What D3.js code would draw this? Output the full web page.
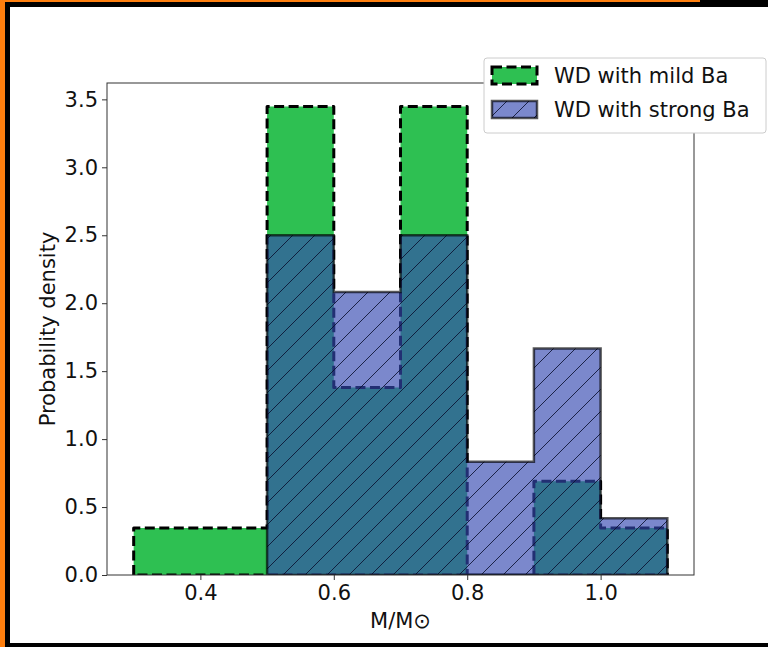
<!DOCTYPE html>
<meta charset='utf-8'>
<style>
body { margin: 0; background: #fff; }
svg { display: block; }
text {
    font-family: 'DejaVu Sans', sans-serif;
    fill: #111;
}
.axis path, .axis line {
    stroke: #333;
}
</style>
<svg width='768' height='647'></svg>
<script src='https://cdnjs.cloudflare.com/ajax/libs/d3/7.8.5/d3.min.js'></script>
<script>

// histogram bins (bin edges, M/Msun) and densities
var mildEdges = [0.3, 0.5, 0.6, 0.7, 0.8, 0.9, 1.0, 1.1],
    mildValues = [0.345, 3.448, 1.379, 3.448, 0, 0.690, 0.345],
    strongEdges = [0.5, 0.6, 0.7, 0.8, 0.9, 1.0, 1.1],
    strongValues = [2.5, 2.083, 2.5, 0.833, 1.667, 0.417];

var xTicks = [0.4, 0.6, 0.8, 1.0],
    yTicks = [0, 0.5, 1.0, 1.5, 2.0, 2.5, 3.0, 3.5];

var legendLabels = ['WD with mild Ba', 'WD with strong Ba'];

var svg = d3.select('svg'),
    W = +svg.attr('width'),
    H = +svg.attr('height');

// window frame (orange / black edges)
svg.append('rect').attr('width', W).attr('height', H).attr('fill', '#000');
svg.append('rect').attr('x', 0).attr('y', 0).attr('width', 5).attr('height', H).attr('fill', '#ff7f0e');
svg.append('rect').attr('x', 0).attr('y', 0).attr('width', 700).attr('height', 2).attr('fill', '#ff7f0e');
svg.append('rect').attr('x', 10).attr('y', 7).attr('width', W - 10).attr('height', 636).attr('fill', '#fff');

// plot area in px
var pLeft = 107, pRight = 694, pTop = 83, pBottom = 575;

var x = d3.scaleLinear().domain([0.26, 1.14]).range([pLeft, pRight]),
    y = d3.scaleLinear().domain([0, 3.448 * 1.05]).range([pBottom, pTop]);

// hatch pattern
var defs = svg.append('defs');
var hatch = defs.append('pattern')
    .attr('id', 'hatch')
    .attr('patternUnits', 'userSpaceOnUse')
    .attr('width', 22).attr('height', 22);
hatch.append('path')
    .attr('d', 'M-2,2 L2,-2 M0,22 L22,0 M20,24 L24,20')
    .attr('stroke', '#0b1030')
    .attr('stroke-width', 1)
    .attr('stroke-opacity', 0.85);

defs.append('clipPath').attr('id', 'plotclip')
  .append('rect').attr('x', pLeft).attr('y', pTop)
  .attr('width', pRight - pLeft).attr('height', pBottom - pTop);

function stepPoints(edges, values) {
    var pts = [[edges[0], 0]];
    values.forEach(function(v, i) {
        pts.push([edges[i], v]);
        pts.push([edges[i + 1], v]);
    });
    pts.push([edges[edges.length - 1], 0]);
    return pts;
}

var line = d3.line().x(function(d) { return x(d[0]); }).y(function(d) { return y(d[1]); });

var plot = svg.append('g').attr('clip-path', 'url(#plotclip)');

// mild Ba (stepfilled, dashed outline)
plot.append('path')
    .attr('d', line(stepPoints(mildEdges, mildValues)) + 'Z')
    .attr('fill', '#2ec052')
    .attr('stroke', '#000')
    .attr('stroke-width', 3)
    .attr('stroke-dasharray', '10,4.5')
    .attr('stroke-linejoin', 'round');

// strong Ba (stepfilled, semi transparent, hatched)
var strongD = line(stepPoints(strongEdges, strongValues)) + 'Z';
plot.append('path')
    .attr('d', strongD)
    .attr('fill', '#3448b1')
    .attr('fill-opacity', 0.65);
plot.append('path')
    .attr('d', strongD)
    .attr('fill', 'url(#hatch)');
plot.append('path')
    .attr('d', strongD)
    .attr('fill', 'none')
    .attr('stroke', '#000')
    .attr('stroke-opacity', 0.65)
    .attr('stroke-width', 2.5);

// axes
svg.append('g')
    .attr('class', 'axis')
    .attr('transform', 'translate(0,' + pBottom + ')')
    .call(d3.axisBottom(x).tickValues(xTicks).tickFormat(d3.format('.1f')).tickSize(5).tickPadding(5).tickSizeOuter(0));
svg.append('g')
    .attr('class', 'axis')
    .attr('transform', 'translate(' + pLeft + ',0)')
    .call(d3.axisLeft(y).tickValues(yTicks).tickFormat(d3.format('.1f')).tickSize(5).tickPadding(4).tickSizeOuter(0));
svg.selectAll('.axis text').style('font-size', '21px').attr('fill', '#111');
svg.selectAll('.axis .domain').remove();

// spines
svg.append('rect')
    .attr('x', pLeft).attr('y', pTop)
    .attr('width', pRight - pLeft).attr('height', pBottom - pTop)
    .attr('fill', 'none').attr('stroke', '#333').attr('stroke-width', 1);

// axis labels
svg.append('text')
    .attr('x', (pLeft + pRight) / 2).attr('y', 628)
    .attr('text-anchor', 'middle')
    .style('font-size', '21px')
    .text('M/M\u2299');
svg.append('text')
    .attr('transform', 'translate(55,' + (pTop + pBottom) / 2 + ') rotate(-90)')
    .attr('text-anchor', 'middle')
    .style('font-size', '21px')
    .text('Probability density');

// legend
var lg = svg.append('g').attr('transform', 'translate(484,58)');
lg.append('rect')
    .attr('width', 282).attr('height', 75).attr('rx', 3)
    .attr('fill', '#fff').attr('stroke', '#ccc');
var rowY = [9, 43];
lg.append('rect')
    .attr('x', 8).attr('y', rowY[0]).attr('width', 45).attr('height', 17)
    .attr('fill', '#2ec052').attr('stroke', '#000').attr('stroke-width', 3)
    .attr('stroke-dasharray', '10,4.5');
lg.append('rect')
    .attr('x', 8).attr('y', rowY[1]).attr('width', 45).attr('height', 17)
    .attr('fill', '#3448b1').attr('fill-opacity', 0.65);
lg.append('rect')
    .attr('x', 8).attr('y', rowY[1]).attr('width', 45).attr('height', 17)
    .attr('fill', 'url(#hatch)');
lg.append('rect')
    .attr('x', 8).attr('y', rowY[1]).attr('width', 45).attr('height', 17)
    .attr('fill', 'none').attr('stroke', '#000').attr('stroke-opacity', 0.65).attr('stroke-width', 2.5);
lg.selectAll('text.lab').data(legendLabels).enter().append('text')
    .attr('class', 'lab')
    .attr('x', 70)
    .attr('y', function(d, i) { return rowY[i] + 16; })
    .style('font-size', '21px')
    .text(function(d) { return d; });
</script>
